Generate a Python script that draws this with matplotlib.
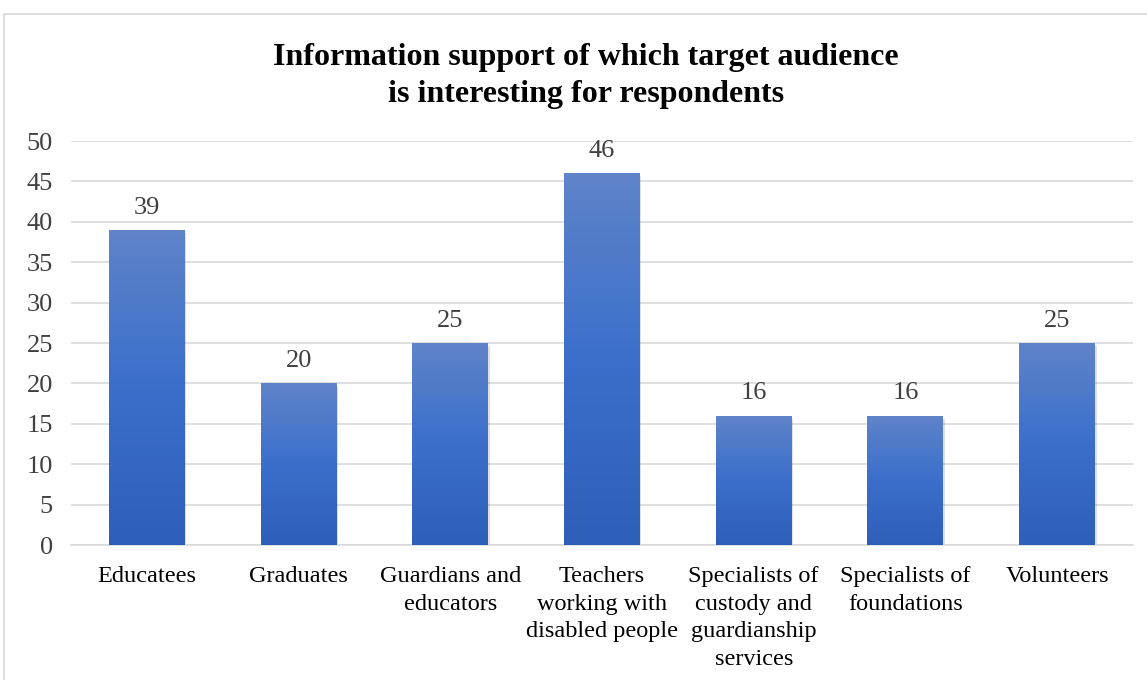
import matplotlib
matplotlib.use("Agg")
import matplotlib.pyplot as plt
import numpy as np
from matplotlib.patches import Rectangle
from matplotlib.colors import LinearSegmentedColormap

categories = ["Educatees", "Graduates", "Guardians and\neducators",
              "Teachers\nworking with\ndisabled people",
              "Specialists of\ncustody and\nguardianship\nservices",
              "Specialists of\nfoundations", "Volunteers"]
values = [39, 20, 25, 46, 16, 16, 25]
yticks = [0, 5, 10, 15, 20, 25, 30, 35, 40, 45, 50]
title = "Information support of which target audience\nis interesting for respondents"

plt.rcParams['font.family'] = ['Liberation Serif', 'DejaVu Serif']

W, H = 1147, 680
fig = plt.figure(figsize=(W / 100, H / 100), dpi=100)
ax = fig.add_axes([71 / W, 1 - 545 / H, (1133 - 71) / W, (545 - 141) / H])

# chart border
fig.patches.append(Rectangle((4 / W, -0.05), 1.2, 1 - 14 / H + 0.05,
                             transform=fig.transFigure, fill=False,
                             edgecolor="#D9D9D9", linewidth=1.2))

x = np.arange(len(categories))
bw = 0.5
bars = ax.bar(x, values, width=bw, color="none", zorder=3)

cmap = LinearSegmentedColormap.from_list("g", ["#2E5FB8", "#3B6FCB", "#5F84C9"])
grad = np.linspace(0, 1, 256).reshape(-1, 1)
for b in bars:
    x0, y0 = b.get_x(), b.get_y()
    w, h = b.get_width(), b.get_height()
    # soft shadow
    ax.add_patch(Rectangle((x0 + 0.01, y0 - 0.35), w, h, facecolor="#000000",
                           alpha=0.12, edgecolor="none", zorder=2))
    im = ax.imshow(grad, cmap=cmap, aspect="auto", origin="lower",
                   extent=[x0, x0 + w, y0, y0 + h], zorder=3)
    im.set_clip_path(b)
    ax.text(x0 + w / 2, y0 + h + 1.4, str(int(h)), ha="center", va="bottom",
            fontsize=19, color="#404040")

ax.set_xlim(-0.5, len(categories) - 0.5)
ax.set_ylim(0, 50)
ax.set_yticks(yticks)
ax.set_yticklabels([str(t) for t in yticks], fontsize=19, color="#404040")
ax.set_xticks(x)
ax.set_xticklabels(categories, fontsize=17.5, color="#000000", linespacing=1.42)
ax.tick_params(axis="both", length=0)
ax.tick_params(axis="y", pad=13)
ax.tick_params(axis="x", pad=15)
ax.grid(axis="y", color="#D9D9D9", linewidth=1.2, zorder=0)
ax.set_axisbelow(True)
for s in ["top", "right", "left"]:
    ax.spines[s].set_visible(False)
ax.spines["bottom"].set_color("#D9D9D9")
ax.spines["bottom"].set_linewidth(1.2)

fig.text(586 / W, 1 - 76 / H, title, ha="center", va="center",
         fontsize=23, fontweight="bold", linespacing=1.4)

fig.savefig("out.png", dpi=100)
